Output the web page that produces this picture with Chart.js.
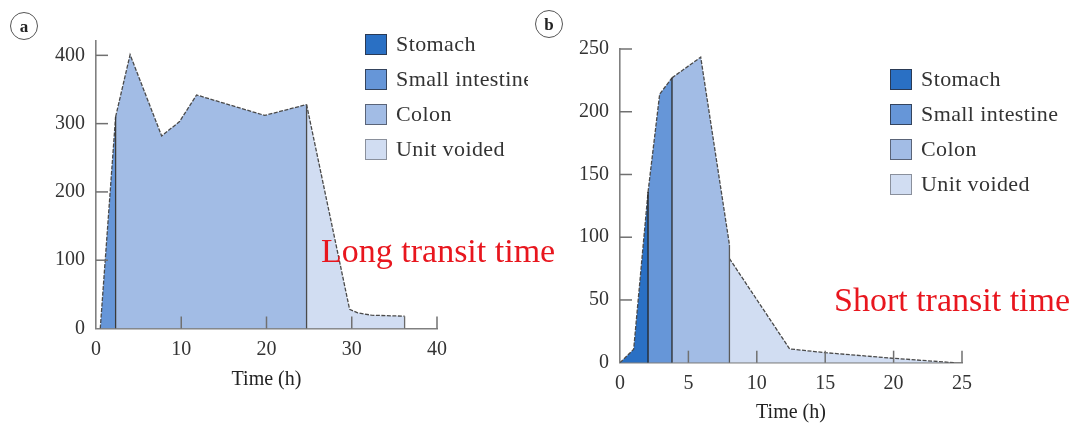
<!DOCTYPE html>
<html><head><meta charset="utf-8">
<script src="https://cdn.jsdelivr.net/npm/chart.js@4.4.1/dist/chart.umd.min.js"></script>
<style>
body{margin:0;background:#fff;}
#wrap{position:relative;width:1075px;height:424px;overflow:hidden;font-family:"Liberation Serif","Times New Roman",serif;}
canvas{position:absolute;top:0;}
.lg{position:absolute;overflow:hidden;height:200px;}
.row{position:absolute;left:0;height:22px;display:flex;align-items:center;white-space:nowrap;font-size:22px;letter-spacing:0.4px;color:#333;}
.box{width:20px;height:19px;border:1.5px solid #444;margin-right:9px;flex:none;}
.red{position:absolute;color:#e8161e;font-size:34px;white-space:nowrap;line-height:1;}
.circ{position:absolute;width:26px;height:26px;border:1.5px solid #555;border-radius:50%;font-weight:bold;font-size:17px;color:#222;display:flex;align-items:center;justify-content:center;line-height:1;}
</style></head>
<body>
<div id="wrap">
  <canvas id="ca" width="540" height="424" style="left:0"></canvas>
  <canvas id="cb" width="535" height="424" style="left:540px"></canvas>
  <div class="circ" style="left:10px;top:12px;">a</div>
  <div class="circ" style="left:535px;top:10px;">b</div>
  <div class="lg" id="lga" style="left:365px;top:33px;width:163px;"></div>
  <div class="lg" id="lgb" style="left:890px;top:68px;width:180px;"></div>
  <div class="red" style="left:321px;top:234px;">Long transit time</div>
  <div class="red" style="left:834px;top:283px;">Short transit time</div>
</div>
<script>
// ---- data ----
const categories = ['Stomach', 'Small intestine', 'Colon', 'Unit voided'];
const fillColors = ['#2a70c4', '#6696d8', '#a2bce5', '#d1ddf2'];
const boxBorders = ['#2a3a55', '#34445e', '#5a6478', '#8a909c'];

// chart a (long transit time)
const aSmallX = [0.5, 2.3, 2.3];
const aSmallY = [0, 310, 0];
const aColonX = [2.3, 4.0, 7.7, 9.8, 11.8, 19.8, 24.7, 24.7];
const aColonY = [310, 401, 282, 303, 342, 312, 328, 0];
const aVoidX = [24.7, 29.75, 30.7, 32.3, 36.2, 36.2];
const aVoidY = [328, 28, 23, 19.5, 18, 0];
const aXTicks = [0, 10, 20, 30, 40];
const aYTicks = [0, 100, 200, 300, 400];

// chart b (short transit time)
const bStomX = [0, 1.0, 2.05, 2.05];
const bStomY = [0, 10.7, 136, 0];
const bSmallX = [2.05, 2.9, 3.8, 3.8];
const bSmallY = [136, 214, 227, 0];
const bColonX = [3.8, 5.9, 8.0, 8.0];
const bColonY = [227, 243.5, 94, 0];
const bVoidX = [8.0, 12.4, 15, 20, 24.4];
const bVoidY = [83, 11, 8, 3.5, 0];
const bXTicks = [0, 5, 10, 15, 20, 25];
const bYTicks = [0, 50, 100, 150, 200, 250];

// ---- helpers ----
const FONT = '"Liberation Serif","Times New Roman",serif';
function pts(xs, ys){ return xs.map((x,i)=>({x:x, y:ys[i]})); }
function ds(label, xs, ys, ci, vcol){
  return {
    label: label, data: pts(xs, ys), fill: 'origin',
    backgroundColor: fillColors[ci], borderColor: '#4a4a4a', borderWidth: 1.3,
    pointRadius: 0, tension: 0,
    segment: {
      borderDash: c => c.p0.parsed.x === c.p1.parsed.x ? [] : [4, 1.5],
      borderColor: c => c.p0.parsed.x === c.p1.parsed.x ? vcol : '#4a4a4a'
    }
  };
}
const innerTicks = {
  id: 'innerTicks',
  afterDatasetsDraw(chart){
    const ctx = chart.ctx, x = chart.scales.x, y = chart.scales.y, a = chart.chartArea;
    ctx.save(); ctx.strokeStyle = '#707070'; ctx.lineWidth = 1.5;
    x.ticks.forEach(t => { if (t.value === x.min) return; const px = x.getPixelForValue(t.value);
      ctx.beginPath(); ctx.moveTo(px, a.bottom); ctx.lineTo(px, a.bottom - 12); ctx.stroke(); });
    y.ticks.forEach(t => { if (t.value === y.min) return; const py = y.getPixelForValue(t.value);
      ctx.beginPath(); ctx.moveTo(a.left, py); ctx.lineTo(a.left + 12, py); ctx.stroke(); });
    ctx.restore();
  }
};
function make(id, datasets, xMax, yMax, xTicks, yTicks, pad, yW, xH, titlePadB){
  return new Chart(document.getElementById(id), {
    type: 'line',
    data: { datasets: datasets },
    plugins: [innerTicks],
    options: {
      responsive: false, animation: false, devicePixelRatio: 1,
      layout: { padding: pad },
      plugins: { legend: { display: false }, tooltip: { enabled: false } },
      scales: {
        x: {
          type: 'linear', min: 0, max: xMax,
          afterBuildTicks: s => { s.ticks = xTicks.map(v => ({value: v})); },
          afterFit: s => { s.height = xH; },
          grid: { drawOnChartArea: false, drawTicks: false },
          border: { display: true, color: '#808080', width: 1.6 },
          ticks: { color: '#333', padding: 9, font: { family: FONT, size: 20 }, maxRotation: 0 },
          title: { display: true, text: 'Time (h)', color: '#222', font: { family: FONT, size: 20, lineHeight: 1 }, padding: { top: 0, bottom: titlePadB } }
        },
        y: {
          type: 'linear', min: 0, max: yMax,
          afterBuildTicks: s => { s.ticks = yTicks.map(v => ({value: v})); },
          afterFit: s => { s.width = yW; },
          grid: { drawOnChartArea: false, drawTicks: false },
          border: { display: true, color: '#808080', width: 1.6 },
          ticks: { color: '#333', padding: 11, font: { family: FONT, size: 20 } }
        }
      }
    }
  });
}

make('ca', [
  ds(categories[1], aSmallX, aSmallY, 1, '#3a3a3a'),
  ds(categories[2], aColonX, aColonY, 2, '#4a4a4a'),
  ds(categories[3], aVoidX, aVoidY, 3, '#6a6a6a')
], 40, 421, aXTicks, aYTicks, {left: 0, right: 103, top: 41, bottom: 0}, 96, 95.5, 34);

make('cb', [
  ds(categories[0], bStomX, bStomY, 0, '#222'),
  ds(categories[1], bSmallX, bSmallY, 1, '#2a2a2a'),
  ds(categories[2], bColonX, bColonY, 2, '#5a5a5a'),
  ds(categories[3], bVoidX, bVoidY, 3, '#6a6a6a')
], 25, 250, bXTicks, bYTicks, {left: 0, right: 113, top: 49, bottom: 0}, 80, 61.3, 1);

function legend(id){
  const el = document.getElementById(id);
  categories.forEach((c, i) => {
    const r = document.createElement('div'); r.className = 'row'; r.style.top = (i * 35) + 'px';
    const b = document.createElement('div'); b.className = 'box';
    b.style.background = fillColors[i]; b.style.borderColor = boxBorders[i];
    const t = document.createElement('span'); t.textContent = c;
    r.appendChild(b); r.appendChild(t); el.appendChild(r);
  });
}
legend('lga'); legend('lgb');
</script>
</body></html>
